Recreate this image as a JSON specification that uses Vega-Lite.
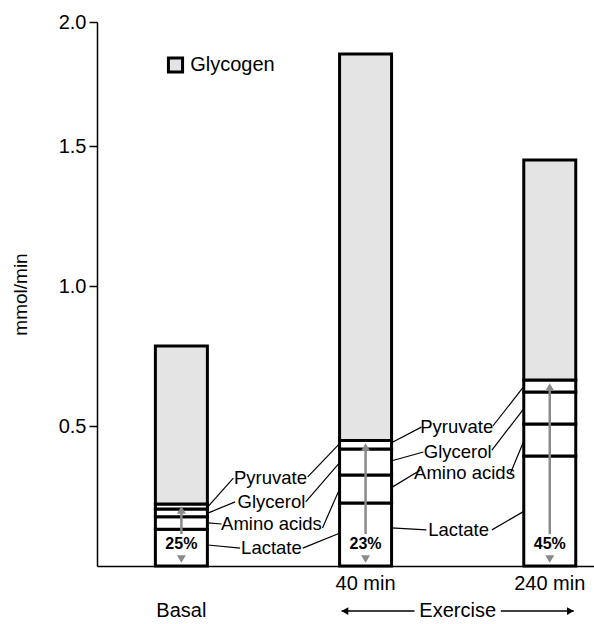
{
  "$schema": "https://vega.github.io/schema/vega-lite/v6.json",
  "width": 497,
  "height": 544,
  "autosize": {"type": "none"},
  "padding": {"left": 97, "top": 22, "right": 0, "bottom": 58},
  "background": "white",
  "config": {
    "view": {"stroke": null},
    "font": "Liberation Sans",
    "text": {"font": "Liberation Sans", "color": "black"}
  },
  "layer": [
    {
      "data": {"values": [
        {"period": "Basal", "xpos": 1, "source": "Lactate", "val": 0, "val2": 0.131},
        {"period": "Basal", "xpos": 1, "source": "Amino acids", "val": 0.131, "val2": 0.176},
        {"period": "Basal", "xpos": 1, "source": "Glycerol", "val": 0.176, "val2": 0.204},
        {"period": "Basal", "xpos": 1, "source": "Pyruvate", "val": 0.204, "val2": 0.221},
        {"period": "Basal", "xpos": 1, "source": "Glycogen", "val": 0.221, "val2": 0.786},
        {"period": "40 min", "xpos": 2, "source": "Lactate", "val": 0, "val2": 0.225},
        {"period": "40 min", "xpos": 2, "source": "Amino acids", "val": 0.225, "val2": 0.325},
        {"period": "40 min", "xpos": 2, "source": "Glycerol", "val": 0.325, "val2": 0.418},
        {"period": "40 min", "xpos": 2, "source": "Pyruvate", "val": 0.418, "val2": 0.448},
        {"period": "40 min", "xpos": 2, "source": "Glycogen", "val": 0.448, "val2": 1.871},
        {"period": "240 min", "xpos": 3, "source": "Lactate", "val": 0, "val2": 0.393},
        {"period": "240 min", "xpos": 3, "source": "Amino acids", "val": 0.393, "val2": 0.507},
        {"period": "240 min", "xpos": 3, "source": "Glycerol", "val": 0.507, "val2": 0.621},
        {"period": "240 min", "xpos": 3, "source": "Pyruvate", "val": 0.621, "val2": 0.664},
        {"period": "240 min", "xpos": 3, "source": "Glycogen", "val": 0.664, "val2": 1.45}
      ]},
      "mark": {"type": "bar", "size": 52, "stroke": "black", "strokeWidth": 3},
      "encoding": {
        "x": {"field": "xpos", "type": "quantitative", "title": null,
              "scale": {"domain": [0.569, 3.213], "nice": false, "zero": false},
              "axis": {"labels": false, "ticks": false, "grid": false, "domain": true, "domainColor": "black", "domainWidth": 1.5, "title": null}},
        "y": {"field": "val", "type": "quantitative", "title": "mmol/min",
              "scale": {"domain": [0, 1.5, 2.0], "range": [544, 124, 0], "nice": false, "zero": false},
              "axis": {"values": [0.5, 1.0, 1.5, 2.0], "format": ".1f", "grid": false,
                       "domainColor": "black", "domainWidth": 1.5, "tickColor": "black", "tickWidth": 1.5, "tickSize": 8,
                       "labelFontSize": 20, "labelColor": "black", "labelPadding": 3, "labelFont": "Liberation Sans",
                       "titleFontSize": 19, "titleFontWeight": "normal", "titleColor": "black", "titleFont": "Liberation Sans", "titlePadding": 28}},
        "y2": {"field": "val2"},
        "fill": {"field": "source", "type": "nominal", "legend": null,
                 "scale": {"domain": ["Glycogen", "Pyruvate", "Glycerol", "Amino acids", "Lactate"],
                           "range": ["#e4e4e4", "white", "white", "white", "white"]}}
      }
    },
    {
      "data": {"values": [
        {"xpos": 1, "val": 0.114, "val2": 0.2},
        {"xpos": 2, "val": 0.114, "val2": 0.425},
        {"xpos": 3, "val": 0.114, "val2": 0.639}
      ]},
      "mark": {"type": "rule", "color": "#8a8a8a", "strokeWidth": 2.5},
      "encoding": {
        "x": {"field": "xpos", "type": "quantitative"},
        "y": {"field": "val", "type": "quantitative"},
        "y2": {"field": "val2"}
      }
    },
    {
      "data": {"values": [
        {"xpos": 1, "val": 0.2},
        {"xpos": 2, "val": 0.425},
        {"xpos": 3, "val": 0.639}
      ]},
      "mark": {"type": "point", "shape": "triangle-up", "filled": true, "color": "#8a8a8a", "size": 80, "opacity": 1},
      "encoding": {
        "x": {"field": "xpos", "type": "quantitative"},
        "y": {"field": "val", "type": "quantitative"}
      }
    },
    {
      "data": {"values": [
        {"xpos": 1, "val": 0.025},
        {"xpos": 2, "val": 0.025},
        {"xpos": 3, "val": 0.025}
      ]},
      "mark": {"type": "point", "shape": "triangle-down", "filled": true, "color": "#8a8a8a", "size": 80, "opacity": 1},
      "encoding": {
        "x": {"field": "xpos", "type": "quantitative"},
        "y": {"field": "val", "type": "quantitative"}
      }
    },
    {
      "data": {"values": [
        {"xpos": 1, "val": 0.079, "label": "25%"},
        {"xpos": 2, "val": 0.079, "label": "23%"},
        {"xpos": 3, "val": 0.079, "label": "45%"}
      ]},
      "mark": {"type": "text", "fontSize": 16, "fontWeight": "bold", "align": "center", "baseline": "middle"},
      "encoding": {
        "x": {"field": "xpos", "type": "quantitative"},
        "y": {"field": "val", "type": "quantitative"},
        "text": {"field": "label"}
      }
    },
    {
      "data": {"values": [
        {"xpos": 1.282, "val": 0.314, "xpos2": 1.1435, "val2": 0.211},
        {"xpos": 1.292, "val": 0.229, "xpos2": 1.1435, "val2": 0.189},
        {"xpos": 1.218, "val": 0.150, "xpos2": 1.1435, "val2": 0.154},
        {"xpos": 1.319, "val": 0.064, "xpos2": 1.1435, "val2": 0.075},
        {"xpos": 1.686, "val": 0.318, "xpos2": 1.8615, "val2": 0.439},
        {"xpos": 1.675, "val": 0.229, "xpos2": 1.8615, "val2": 0.371},
        {"xpos": 1.766, "val": 0.136, "xpos2": 1.8615, "val2": 0.279},
        {"xpos": 1.659, "val": 0.064, "xpos2": 1.8615, "val2": 0.118},
        {"xpos": 2.303, "val": 0.496, "xpos2": 2.138, "val2": 0.439},
        {"xpos": 2.314, "val": 0.407, "xpos2": 2.138, "val2": 0.375},
        {"xpos": 2.298, "val": 0.343, "xpos2": 2.138, "val2": 0.279},
        {"xpos": 2.330, "val": 0.129, "xpos2": 2.138, "val2": 0.136},
        {"xpos": 2.691, "val": 0.500, "xpos2": 2.8615, "val2": 0.643},
        {"xpos": 2.686, "val": 0.414, "xpos2": 2.8615, "val2": 0.564},
        {"xpos": 2.787, "val": 0.332, "xpos2": 2.8615, "val2": 0.450},
        {"xpos": 2.686, "val": 0.129, "xpos2": 2.8615, "val2": 0.196}
      ]},
      "mark": {"type": "rule", "color": "black", "strokeWidth": 1.2},
      "encoding": {
        "x": {"field": "xpos", "type": "quantitative"},
        "x2": {"field": "xpos2"},
        "y": {"field": "val", "type": "quantitative"},
        "y2": {"field": "val2"}
      }
    },
    {
      "data": {"values": [
        {"xpos": 1.484, "val": 0.314, "label": "Pyruvate"},
        {"xpos": 1.489, "val": 0.229, "label": "Glycerol"},
        {"xpos": 1.489, "val": 0.150, "label": "Amino acids"},
        {"xpos": 1.489, "val": 0.064, "label": "Lactate"},
        {"xpos": 2.495, "val": 0.496, "label": "Pyruvate"},
        {"xpos": 2.500, "val": 0.407, "label": "Glycerol"},
        {"xpos": 2.537, "val": 0.332, "label": "Amino acids"},
        {"xpos": 2.505, "val": 0.129, "label": "Lactate"}
      ]},
      "mark": {"type": "text", "fontSize": 18.5, "align": "center", "baseline": "middle"},
      "encoding": {
        "x": {"field": "xpos", "type": "quantitative"},
        "y": {"field": "val", "type": "quantitative"},
        "text": {"field": "label"}
      }
    },
    {
      "data": {"values": [{"xpos": 0.968, "val": 1.8266}]},
      "mark": {"type": "square", "size": 200, "fill": "#e4e4e4", "stroke": "black", "strokeWidth": 3, "opacity": 1},
      "encoding": {
        "x": {"field": "xpos", "type": "quantitative"},
        "y": {"field": "val", "type": "quantitative"}
      }
    },
    {
      "data": {"values": [{"xpos": 1.048, "val": 1.8266, "label": "Glycogen"}]},
      "mark": {"type": "text", "fontSize": 20, "align": "left", "baseline": "middle"},
      "encoding": {
        "x": {"field": "xpos", "type": "quantitative"},
        "y": {"field": "val", "type": "quantitative"},
        "text": {"field": "label"}
      }
    },
    {
      "data": {"values": [
        {"xpos": 2, "val": -0.064, "label": "40 min"},
        {"xpos": 3, "val": -0.064, "label": "240 min"},
        {"xpos": 1, "val": -0.161, "label": "Basal"},
        {"xpos": 2.5, "val": -0.161, "label": "Exercise"}
      ]},
      "mark": {"type": "text", "fontSize": 20, "align": "center", "baseline": "middle"},
      "encoding": {
        "x": {"field": "xpos", "type": "quantitative"},
        "y": {"field": "val", "type": "quantitative"},
        "text": {"field": "label"}
      }
    },
    {
      "data": {"values": [
        {"xpos": 1.87, "val": -0.161, "xpos2": 2.266},
        {"xpos": 2.734, "val": -0.161, "xpos2": 3.13}
      ]},
      "mark": {"type": "rule", "color": "black", "strokeWidth": 1.5},
      "encoding": {
        "x": {"field": "xpos", "type": "quantitative"},
        "x2": {"field": "xpos2"},
        "y": {"field": "val", "type": "quantitative"}
      }
    },
    {
      "data": {"values": [{"xpos": 1.888, "val": -0.161}]},
      "mark": {"type": "point", "shape": "triangle-left", "filled": true, "color": "black", "size": 60, "opacity": 1},
      "encoding": {
        "x": {"field": "xpos", "type": "quantitative"},
        "y": {"field": "val", "type": "quantitative"}
      }
    },
    {
      "data": {"values": [{"xpos": 3.112, "val": -0.161}]},
      "mark": {"type": "point", "shape": "triangle-right", "filled": true, "color": "black", "size": 60, "opacity": 1},
      "encoding": {
        "x": {"field": "xpos", "type": "quantitative"},
        "y": {"field": "val", "type": "quantitative"}
      }
    }
  ]
}
